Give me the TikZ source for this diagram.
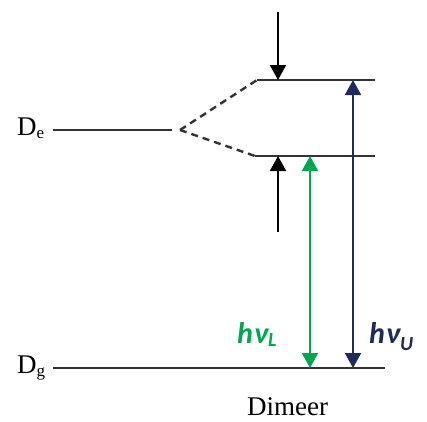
\documentclass[tikz,border=0pt]{standalone}
\usepackage{fontspec}
\setmainfont{Liberation Serif}
\newfontfamily\carl{Carlito}
\usetikzlibrary{arrows.meta}
\definecolor{lvl}{HTML}{333333}
\definecolor{grn}{HTML}{00A650}
\definecolor{navy}{HTML}{1F2A5C}
\tikzset{
  level/.style={draw=lvl, line width=2.4pt},
  dashlvl/.style={draw=lvl, line width=2.4pt, dash pattern=on 7pt off 5pt},
  arr/.style={line width=2pt, -{Triangle[width=16pt,length=15pt]}},
  darr/.style={line width=2pt, {Triangle[width=16pt,length=15pt]}-{Triangle[width=16pt,length=15pt]}},
  lab/.style={inner sep=0pt, anchor=base west},
  hv/.style={inner sep=0pt, anchor=base west, font=\carl\bfseries\itshape\fontsize{30}{30}\selectfont}
}
\begin{document}
\begin{tikzpicture}[x=1pt,y=-1pt]
\useasboundingbox (0,0) rectangle (427,421);
% coordinates
\coordinate (deL) at (53,130);
\coordinate (deR) at (172,130);
\coordinate (split) at (180,130);
\coordinate (upL) at (257,80);
\coordinate (upR) at (375,80);
\coordinate (loL) at (255,156);
\coordinate (loR) at (375,156);
\coordinate (dgL) at (53,368);
\coordinate (dgR) at (385,368);
\coordinate (ta) at (278,12);
\coordinate (tb) at (278,80);
\coordinate (ba) at (278,232);
\coordinate (bb) at (278,156);
\coordinate (g1) at (310,156);
\coordinate (g2) at (310,368);
\coordinate (n1) at (353,80);
\coordinate (n2) at (353,368);
% levels
\draw[level] (deL) -- (deR);
\draw[level] (upL) -- (upR);
\draw[level] (loL) -- (loR);
\draw[level] (dgL) -- (dgR);
\draw[dashlvl] (split) -- (upL);
\draw[dashlvl] (split) -- (loL);
% arrows
\draw[arr, black] (ta) -- (tb);
\draw[arr, black] (ba) -- (bb);
\draw[darr, draw=grn, fill=grn] (g2) -- (g1);
\draw[darr, draw=navy, fill=navy] (n2) -- (n1);
% labels
\node[lab] (De) at (17,135) {\fontsize{27}{27}\selectfont D\raisebox{-3pt}{\fontsize{17}{17}\selectfont e}};
\node[lab] (Dg) at (17,373) {\fontsize{27}{27}\selectfont D\raisebox{-3pt}{\fontsize{17}{17}\selectfont g}};
\node[hv, text=grn] (hL) at (237,343) {h\kern1ptν\raisebox{-3pt}{\fontsize{20}{20}\selectfont L}};
\node[hv, text=navy] (hU) at (369,343) {h\kern1ptν\raisebox{-7pt}{\fontsize{20}{20}\selectfont U}};
\node[lab] (dim) at (247,415) {\fontsize{27}{27}\selectfont Dimeer};
\end{tikzpicture}
\end{document}
